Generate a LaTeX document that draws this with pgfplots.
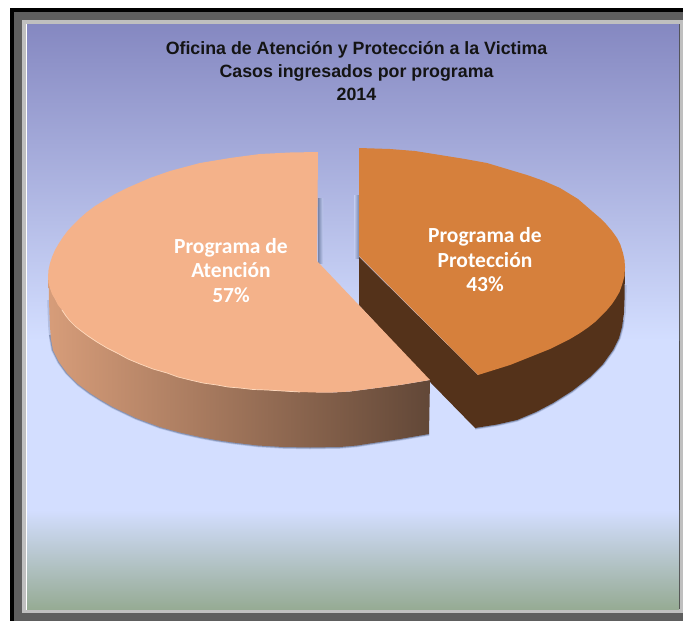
\documentclass[border=0pt]{standalone}
\usepackage{pgfplots}
\pgfplotsset{compat=1.18}
\usepackage{fontspec}
\setmainfont{Liberation Sans}
\newfontfamily\labelfont{Carlito}
\definecolor{bgtop}{HTML}{8588C1}
\definecolor{bgmid}{HTML}{D3DEFF}
\definecolor{bgbot}{HTML}{96AB94}
\definecolor{peach}{HTML}{F4B28A}
\definecolor{peachrim}{HTML}{FFD9BC}
\definecolor{orangetop}{HTML}{D6803C}
\definecolor{brownside}{HTML}{54321A}
\definecolor{shadowc}{HTML}{5F6F95}
\begin{document}
\begin{tikzpicture}
\begin{axis}[
  width=683pt,height=621pt,scale only axis,hide axis,
  xmin=0,xmax=683,ymin=0,ymax=621,y dir=reverse,
  every axis plot/.append style={no markers,forget plot,draw=none}]
% frame
\addplot[fill=white] coordinates {(0,0)(683,0)(683,621)(0,621)};
\addplot[fill=black] coordinates {(10,8)(683,8)(683,621)(10,621)};
\addplot[fill=black!63] coordinates {(14,12)(683,12)(683,621)(14,621)};
\addplot[fill=black!25] coordinates {(22,20)(683,20)(683,613)(22,613)};
\addplot[fill=white] coordinates {(26,24)(27,24)(27,610)(26,610)};
\addplot[fill=black!70] coordinates {(679,24)(680,24)(680,609)(679,609)};
% background bands
\addplot[top color=bgtop,bottom color=bgmid] coordinates {(27,24)(679,24)(679,340)(27,340)};
\addplot[fill=bgmid] coordinates {(27,340)(679,340)(679,510)(27,510)};
\addplot[top color=bgmid,bottom color=bgbot] coordinates {(27,510)(679,510)(679,609)(27,609)};
% back wall shadows
\addplot[left color=shadowc!80!bgmid,right color=bgmid!80!bgtop] coordinates {(318,198)(323,198)(323,263)(318,263)};
\addplot[left color=bgmid!80!bgtop,right color=shadowc!80!bgmid] coordinates {(354,195)(359,195)(359,258)(354,258)};
% soft shadow under the walls
\addplot[draw=shadowc,line width=3.5pt,opacity=.25] coordinates {(49,300)(49.5,315)(50,327)(51,339)(53,350)(59,362)(67,373)(78,384)(90,393)(101,400)(113,407)(136,418)(160,427)(180,432.5)(200,437)(216,440)(233,442.5)(258,445.5)(283,447)(310,447.5)(340,447)(357,445.5)(373,443)(400,439)(429,434)};
\addplot[draw=shadowc,line width=2pt,opacity=.55] coordinates {(50,335)(51,339)(53,350)(59,362)(67,373)(78,384)(90,393)(101,400)(113,407)(136,418)(160,427)(180,432.5)(200,437)(216,440)(233,442.5)(258,445.5)(283,447)(310,447.5)(340,447)(357,445.5)(373,443)(400,439)(429,434)};
\addplot[draw=shadowc,line width=3.5pt,opacity=.25] coordinates {(475,428)(497,424.5)(517,420)(536,412)(553,403)(572,391)(590,377)(603,364)(613,350)(619,338)(622,327)(624,313)(624.5,300)(625,285)};
\addplot[draw=shadowc,line width=2pt,opacity=.55] coordinates {(475,428)(497,424.5)(517,420)(536,412)(553,403)(572,391)(590,377)(603,364)(613,350)(619,338)(622,327)(623,320)};
% Programa de Proteccion: wall
\addplot[fill=brownside] coordinates {(359,257)(359,305)(431,383)(475,428)(497,424.5)(517,420)(536,412)(553,403)(572,391)(590,377)(603,364)(613,350)(619,338)(622,327)(624,313)(624.5,300)(625,267)(600,240)(500,300)(478,375)};
% Programa de Atencion: wall
\addplot[left color=peach!88!black,middle color=brown!20!peach!70!black,right color=black!60!peach] coordinates {(48.5,277)(50,288)(55,299)(62,310)(70,321)(80,330)(97,342)(117,353)(140,364)(167,373)(190,380)(217,385)(240,388)(267,390)(300,392)(333,392.5)(350,391.5)(373,388.5)(400,385)(430,380)(429,434)(400,439)(373,443)(357,445.5)(340,447)(310,447.5)(283,447)(258,445.5)(233,442.5)(216,440)(200,437)(180,432.5)(160,427)(136,418)(113,407)(101,400)(90,393)(78,384)(67,373)(59,362)(53,350)(51,339)(50,327)(49.5,315)(49,300)};
% tops
\addplot[fill=peach] coordinates {(318,152)(290,152.5)(260,154)(230,158)(200,163)(170,171)(150,178)(127,188)(115,194)(105,200)(95,206)(87,212)(79,219)(73,225)(67.5,231)(63,237)(58.5,244)(55,250)(52,257)(50,263)(48.5,270)(48,277)(48.5,283)(50,288)(52,294)(55,299)(58,305)(62,310)(66,316)(70,321)(75,326)(80,330)(88,336)(97,342)(107,348)(117,353)(128,359)(140,364)(153,369)(167,373)(178,377)(190,380)(203,383)(217,385)(228,387)(240,388)(253,389.5)(267,390)(283,391)(300,392)(316,392.5)(333,392.5)(350,391.5)(373,388.5)(400,385)(430,380)(317,261)};
\addplot[draw=peachrim,line width=.7pt] coordinates {(62,310)(66,316)(70,321)(75,326)(80,330)(88,336)(97,342)(107,348)(117,353)(128,359)(140,364)(153,369)(167,373)(178,377)(190,380)(203,383)(217,385)(228,387)(240,388)(253,389.5)(267,390)(283,391)(300,392)};
\addplot[fill=orangetop] coordinates {(359,148)(390,149)(415,151)(440,155)(465,159)(487,163)(507,169)(527,175)(544,181)(560,188)(578,199)(593,212)(600,218)(606,224)(612,231)(617,238)(620.5,245)(623,253)(624.5,260)(625,267)(624.5,276)(622,285)(619.5,292)(616,298)(612,304)(607,310)(601,316)(595,322)(588,327.5)(580,333)(570,339)(560,344)(550,349)(540,353)(525,359)(510,365)(494,370)(478,375)(359,256)};
% labels
\node[align=center,font=\bfseries\fontsize{17.8}{23}\selectfont,text=black!92] at (axis cs:356.5,71) {Oficina de Atención y Protección a la Victima\\Casos ingresados por programa\\2014};
\node[align=center,text=white,font=\labelfont\bfseries\fontsize{21.5}{24.5}\selectfont] at (axis cs:231,270.5) {Programa de\\Atención\\57\%};
\node[align=center,text=white,font=\labelfont\bfseries\fontsize{21.5}{24.5}\selectfont] at (axis cs:485,260) {Programa de\\Protección\\43\%};
\end{axis}
\end{tikzpicture}
\end{document}
